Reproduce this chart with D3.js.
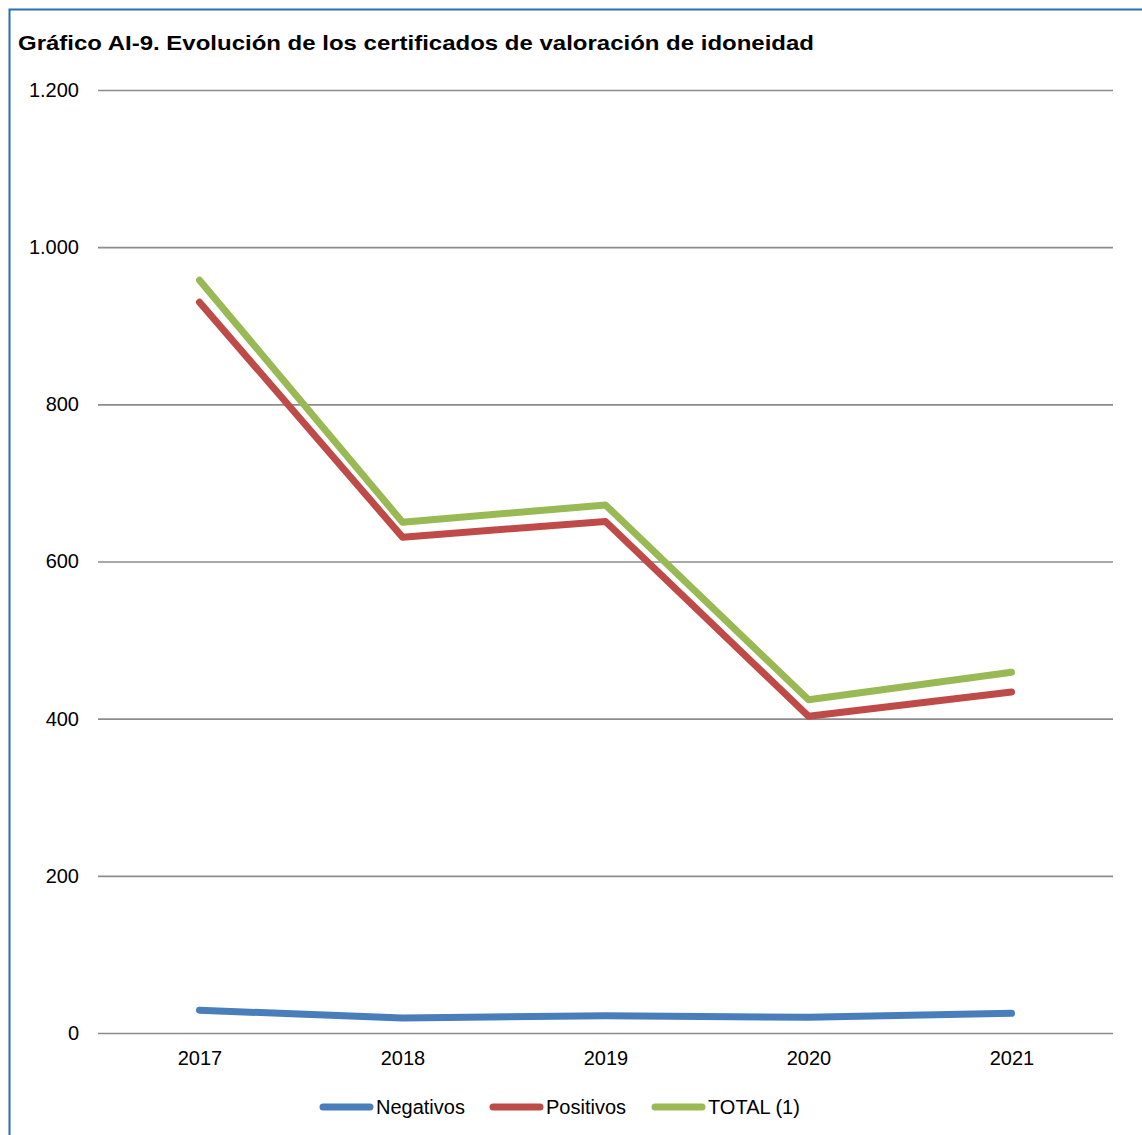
<!DOCTYPE html>
<html>
<head>
<meta charset="utf-8">
<script src="https://cdn.jsdelivr.net/npm/d3@7"></script>
<style>
  body { margin: 0; background: #fff; }
  text { font-family: "Liberation Sans", Arial, sans-serif; fill: #000; }
</style>
</head>
<body>
<script>
const width = 1142;
const height = 1135;
const margin = { top: 90, right: 29, bottom: 102, left: 98 };

const chartWidth = width - margin.left - margin.right;
const chartHeight = height - margin.top - margin.bottom;

// data
const years = ["2017", "2018", "2019", "2020", "2021"];
const negativos = [29, 19, 22, 20, 25];
const positivos = [930, 631, 651, 403, 434];
const total = [958, 650, 672, 424, 459];
const yTicks = [0, 200, 400, 600, 800, 1000, 1200];

const series = [
  { name: "Negativos", values: negativos, color: "#4a7ebb" },
  { name: "Positivos", values: positivos, color: "#be4b48" },
  { name: "TOTAL (1)", values: total, color: "#98b954" }
];

const svg = d3.select("body")
  .append("svg")
  .attr("width", width)
  .attr("height", height);

// frame
svg.append("rect")
  .attr("x", 9.5)
  .attr("y", 9.5)
  .attr("width", 1140)
  .attr("height", 1140)
  .attr("fill", "none")
  .attr("stroke", "#2a6db0")
  .attr("stroke-width", 2);

svg.append("text")
  .attr("x", 18)
  .attr("y", 50)
  .attr("font-size", 21)
  .attr("font-weight", "bold")
  .attr("textLength", 796)
  .attr("lengthAdjust", "spacingAndGlyphs")
  .text("Gráfico AI-9. Evolución de los certificados de valoración de idoneidad");

const g = svg.append("g")
  .attr("transform", `translate(${margin.left}, ${margin.top})`);

const x = d3.scalePoint().domain(years).range([0, chartWidth]).padding(0.5);
const y = d3.scaleLinear().domain([0, 1200]).range([chartHeight, 0]);

const fmt = d => d3.format(",")(d).replace(/,/g, ".");

// grid
const yAxis = g.append("g")
  .call(d3.axisLeft(y).tickValues(yTicks).tickSize(-chartWidth).tickFormat(fmt).tickPadding(19));
yAxis.select(".domain").remove();
yAxis.selectAll("line").attr("stroke", "#8c8c8c").attr("stroke-width", 1.6);
yAxis.selectAll("text").attr("font-size", 20).attr("font-family", "Liberation Sans, Arial, sans-serif");

const xAxis = g.append("g")
  .attr("transform", `translate(0, ${chartHeight})`)
  .call(d3.axisBottom(x).tickSize(0).tickPadding(18));
xAxis.select(".domain").remove();
xAxis.selectAll("text").attr("font-size", 20).attr("font-family", "Liberation Sans, Arial, sans-serif");

const line = d3.line()
  .x((d, i) => x(years[i]))
  .y(d => y(d));

g.selectAll(".series")
  .data(series)
  .enter()
  .append("path")
  .attr("class", "series")
  .attr("d", d => line(d.values))
  .attr("fill", "none")
  .attr("stroke", d => d.color)
  .attr("stroke-width", 7)
  .attr("stroke-linecap", "round")
  .attr("stroke-linejoin", "round");

// legend
const legendX = [320, 490, 652];
const legend = svg.append("g")
  .attr("transform", "translate(0, 1107)");

const items = legend.selectAll("g")
  .data(series)
  .enter()
  .append("g")
  .attr("transform", (d, i) => `translate(${legendX[i]}, 0)`);

items.append("line")
  .attr("x1", 3)
  .attr("x2", 50)
  .attr("stroke", d => d.color)
  .attr("stroke-width", 7)
  .attr("stroke-linecap", "round");

items.append("text")
  .attr("x", 56)
  .attr("dy", "0.35em")
  .attr("font-size", 20)
  .text(d => d.name);
</script>
</body>
</html>
